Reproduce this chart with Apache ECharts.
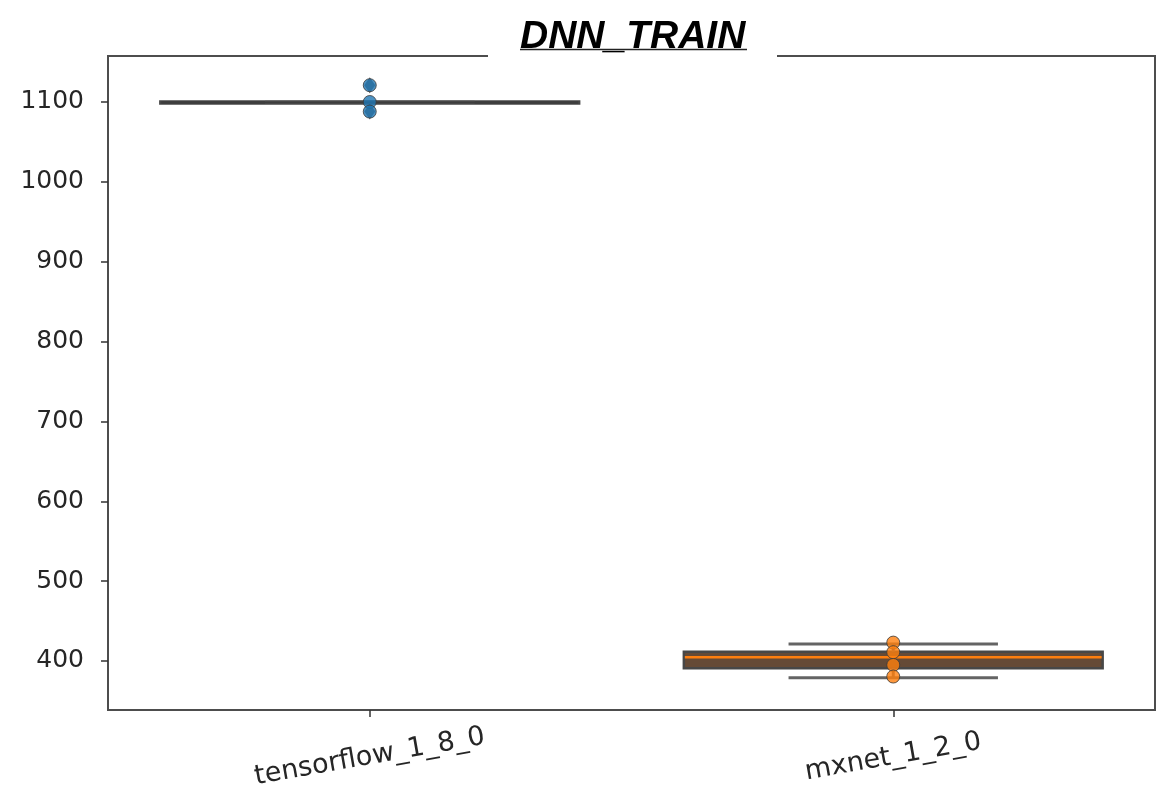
<!DOCTYPE html>
<html>
<head>
<meta charset="utf-8">
<script src="https://cdn.jsdelivr.net/npm/echarts@6/dist/echarts.min.js"></script>
<style>
  html, body { margin: 0; padding: 0; background: #fff; }
  #chart { width: 1162px; height: 811px; }
</style>
</head>
<body>
<div id="chart"></div>
<script>
// Frameworks on the x axis
const categories = ['tensorflow_1_8_0', 'mxnet_1_2_0'];

// Box statistics per framework
const whiskerLow  = [1099.5, 379];
const q1          = [1098,   391];
const median      = [1099.5, 404.6];
const q3          = [1100.5, 411.6];
const whiskerHigh = [1100,   421.3];

// Individual runs (swarm points)
const tensorflowRuns = [1121, 1100, 1088];
const mxnetRuns = [423, 411, 395, 380.5];

// Outliers beyond the whiskers
const tensorflowFliers = [1121, 1088];

// Y tick labels
const yTicks = [400, 500, 600, 700, 800, 900, 1000, 1100];

// Styling
const boxFills = ['#3d4f5e', '#654a36'];
const medianColors = ['#3d3d3d', '#ff7f0e'];
const pointColors = ['#1f77b4', '#ff7f0e'];
const edgeColor = '#474747';
const whiskerColor = '#646464';

const boxData = categories.map((c, i) => [i, whiskerLow[i], q1[i], median[i], q3[i], whiskerHigh[i]]);

function renderBox(params, api) {
  const i = api.value(0);
  const band = api.size([1, 0])[0];
  const half = band * 0.4;
  const capHalf = half / 2;
  const cx = api.coord([i, api.value(3)])[0];
  const yLo = api.coord([i, api.value(1)])[1];
  const yA = api.coord([i, api.value(2)])[1];
  const yM = api.coord([i, api.value(3)])[1];
  const yB = api.coord([i, api.value(4)])[1];
  const yHi = api.coord([i, api.value(5)])[1];
  const wStyle = { stroke: whiskerColor, lineWidth: 3 };
  return {
    type: 'group',
    children: [
      { type: 'rect', shape: { x: cx - half, y: yB, width: 2 * half, height: yA - yB },
        style: { fill: boxFills[i], stroke: edgeColor, lineWidth: 2.5 } },
      { type: 'line', shape: { x1: cx, y1: yB, x2: cx, y2: yHi }, style: wStyle },
      { type: 'line', shape: { x1: cx, y1: yA, x2: cx, y2: yLo }, style: wStyle },
      { type: 'line', shape: { x1: cx - capHalf, y1: yHi, x2: cx + capHalf, y2: yHi }, style: wStyle },
      { type: 'line', shape: { x1: cx - capHalf, y1: yLo, x2: cx + capHalf, y2: yLo }, style: wStyle },
      { type: 'line', shape: { x1: cx - half + 1, y1: yM, x2: cx + half - 1, y2: yM },
        style: { stroke: medianColors[i], lineWidth: 2.5 } }
    ]
  };
}

const chart = echarts.init(document.getElementById('chart'), null, { renderer: 'canvas' });

chart.setOption({
  animation: false,
  backgroundColor: '#fff',
  title: {
    text: 'DNN_TRAIN',
    left: 520,
    top: 18,
    padding: 0,
    z: 60,
    textStyle: {
      fontFamily: 'Liberation Sans',
      fontSize: 39,
      fontWeight: 'bold',
      fontStyle: 'italic',
      color: '#000',
      lineHeight: 39
    }
  },
  graphic: [
    { type: 'rect', z: 50, shape: { x: 488, y: 0, width: 289, height: 62 }, style: { fill: '#fff' } },
    { type: 'line', z: 61, shape: { x1: 520, y1: 49.5, x2: 747, y2: 49.5 }, style: { stroke: '#222', lineWidth: 1.5 } }
  ],
  grid: {
    left: 108, right: 7, top: 56, bottom: 101,
    show: true,
    borderColor: '#4d4d4d',
    borderWidth: 2,
    backgroundColor: 'transparent'
  },
  xAxis: {
    type: 'category',
    data: categories,
    boundaryGap: true,
    axisLine: { show: false },
    axisTick: { show: true, alignWithLabel: true, length: 7, lineStyle: { color: '#333', width: 1.5 } },
    axisLabel: {
      interval: 0,
      rotate: 10,
      align: 'center',
      verticalAlign: 'middle',
      margin: 47,
      fontFamily: 'DejaVu Sans',
      fontSize: 27,
      color: '#262626'
    },
    splitLine: { show: false }
  },
  yAxis: {
    type: 'value',
    min: 338.6,
    max: 1157.6,
    axisLine: { show: false },
    axisTick: { show: true, length: 7, customValues: yTicks, lineStyle: { color: '#333', width: 1.5 } },
    axisLabel: {
      customValues: yTicks,
      formatter: v => String(v),
      margin: 24,
      fontFamily: 'DejaVu Sans',
      fontSize: 25,
      color: '#262626'
    },
    splitLine: { show: false }
  },
  series: [
    {
      type: 'custom',
      renderItem: renderBox,
      data: boxData,
      encode: { x: 0, y: [1, 5] },
      z: 2
    },
    {
      type: 'scatter',
      symbol: 'diamond',
      symbolSize: [11, 16],
      itemStyle: { color: '#3d3d3d' },
      data: tensorflowFliers.map(v => [0, v]),
      z: 3
    },
    {
      type: 'scatter',
      symbolSize: 13,
      itemStyle: { color: pointColors[0], borderColor: '#3a3a3a', borderWidth: 1 },
      data: tensorflowRuns.map(v => [0, v]),
      z: 4
    },
    {
      type: 'scatter',
      symbolSize: 13,
      itemStyle: { color: pointColors[1], borderColor: '#3a3a3a', borderWidth: 1 },
      data: mxnetRuns.map(v => [1, v]),
      z: 4
    }
  ]
});
</script>
</body>
</html>
